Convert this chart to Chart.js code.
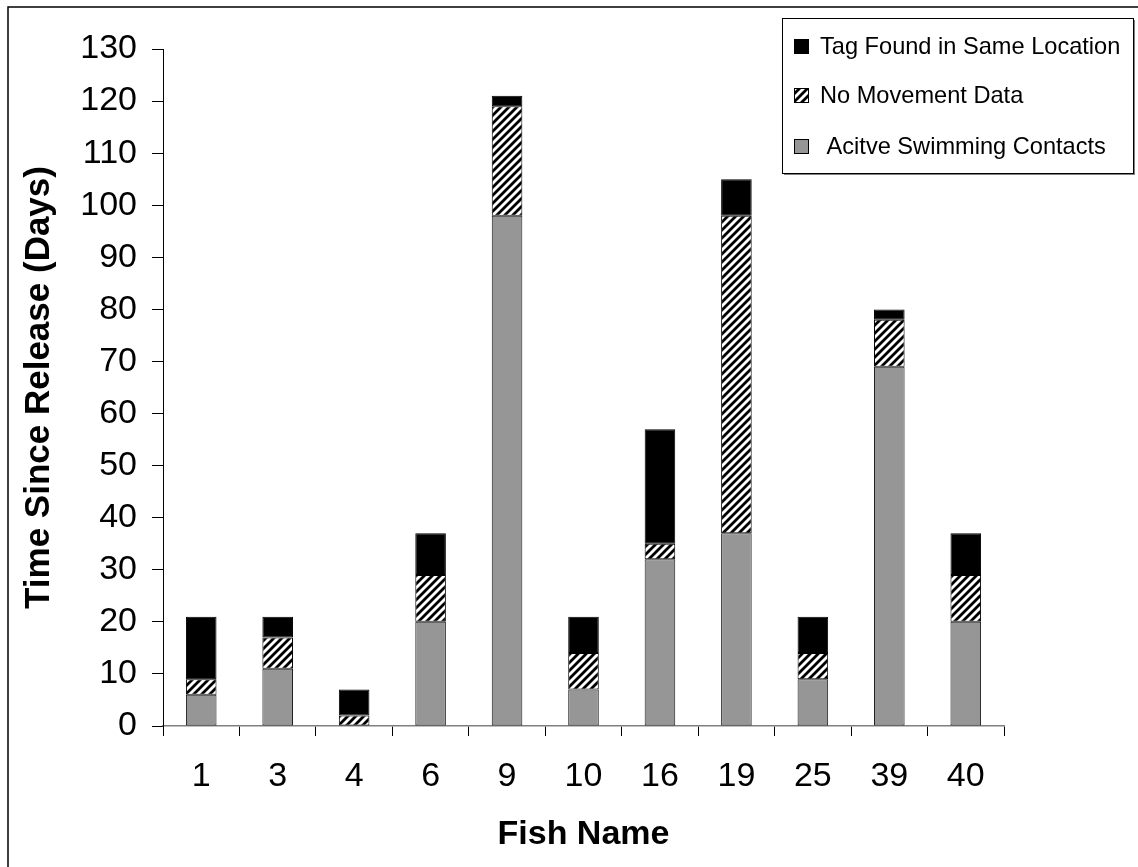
<!DOCTYPE html>
<html>
<head>
<meta charset="utf-8">
<script src="https://cdn.jsdelivr.net/npm/chart.js@4.4.1/dist/chart.umd.min.js"></script>
<style>
  html, body { margin: 0; padding: 0; background: #fff; }
  canvas { display: block; }
</style>
</head>
<body>
<canvas id="chart" width="1138" height="867"></canvas>
<script>
// Fish names along the x axis
const fishNames = ['1', '3', '4', '6', '9', '10', '16', '19', '25', '39', '40'];

// Days in each state, stacked from the bottom up
const activeSwimming = [6, 11, 0, 20, 98, 7, 32, 37, 9, 69, 20];
const noMovement     = [3, 6, 2, 9, 21, 7, 3, 61, 5, 9, 9];
const tagFound       = [12, 4, 5, 8, 2, 7, 22, 7, 7, 2, 8];

const seriesLabels = ['Tag Found in Same Location', 'No Movement Data', ' Acitve Swimming Contacts'];
const yTickValues = [0, 10, 20, 30, 40, 50, 60, 70, 80, 90, 100, 110, 120, 130];

const FONT = '"Liberation Sans", Arial, Helvetica, sans-serif';

// Diagonal black/white hatch used for the "no movement" segments
function makeHatch() {
  const s = 8;
  const c = document.createElement('canvas');
  c.width = s; c.height = s;
  const g = c.getContext('2d');
  g.fillStyle = '#fff';
  g.fillRect(0, 0, s, s);
  g.strokeStyle = '#000';
  g.lineWidth = 2.8;
  g.beginPath();
  for (let k = -1; k <= 1; k++) {
    g.moveTo(k * s - 1, s + 1);
    g.lineTo(k * s + s + 1, -1);
  }
  g.stroke();
  return g.createPattern(c, 'repeat');
}
const hatch = makeHatch();

// Outer frame around the whole figure
const framePlugin = {
  id: 'frame',
  beforeDraw(chart) {
    const ctx = chart.ctx;
    ctx.save();
    ctx.fillStyle = '#fff';
    ctx.fillRect(0, 0, chart.width, chart.height);
    ctx.strokeStyle = '#000';
    ctx.lineWidth = 1.5;
    ctx.strokeRect(8, 7, chart.width + 20, chart.height + 20);
    ctx.restore();
  }
};

// Boxed legend floating in the upper right, top-most series first
const boxLegendPlugin = {
  id: 'boxLegend',
  afterDraw(chart) {
    const ctx = chart.ctx;
    const x = 782, y = 18, w = 351, h = 155;
    ctx.save();
    ctx.fillStyle = '#808080';
    ctx.fillRect(x + 2, y + 2, w, h);
    ctx.fillStyle = '#fff';
    ctx.fillRect(x, y, w, h);
    ctx.strokeStyle = '#000';
    ctx.lineWidth = 1;
    ctx.strokeRect(x + 0.5, y + 0.5, w, h);

    const rows = [46, 95, 146];
    const dsOrder = chart.data.datasets.slice().reverse();
    ctx.font = '23.6px ' + FONT;
    ctx.textBaseline = 'middle';
    ctx.textAlign = 'left';
    dsOrder.forEach((ds, i) => {
      const cy = rows[i];
      ctx.fillStyle = ds.backgroundColor;
      ctx.fillRect(794, cy - 7, 14, 14);
      ctx.strokeStyle = '#000';
      ctx.lineWidth = 1;
      ctx.strokeRect(794.5, cy - 6.5, 14, 14);
      ctx.fillStyle = '#000';
      ctx.fillText(ds.label, 820, cy + 1);
    });
    ctx.restore();
  }
};

new Chart(document.getElementById('chart'), {
  type: 'bar',
  data: {
    labels: fishNames,
    datasets: [
      {
        label: seriesLabels[2],
        data: activeSwimming,
        backgroundColor: '#969696',
        borderColor: '#1a1a1a',
        borderWidth: 1,
        borderSkipped: false
      },
      {
        label: seriesLabels[1],
        data: noMovement,
        backgroundColor: hatch,
        borderColor: '#000',
        borderWidth: 1,
        borderSkipped: false
      },
      {
        label: seriesLabels[0],
        data: tagFound,
        backgroundColor: '#000',
        borderColor: '#000',
        borderWidth: 1,
        borderSkipped: false
      }
    ]
  },
  options: {
    responsive: false,
    animation: false,
    events: [],
    categoryPercentage: 1,
    barPercentage: 0.4,
    layout: { padding: { left: 0, top: 49, right: 134, bottom: 0 } },
    plugins: {
      legend: { display: false },
      tooltip: { enabled: false }
    },
    scales: {
      x: {
        stacked: true,
        afterFit(scale) { scale.height = 141; },
        grid: {
          offset: true,
          drawOnChartArea: false,
          drawTicks: true,
          tickLength: 10,
          tickColor: '#000',
          tickWidth: 1
        },
        border: { display: true, color: '#808080', width: 1.5 },
        ticks: {
          color: '#000',
          font: { family: FONT, size: 34 },
          padding: 20,
          maxRotation: 0
        },
        title: {
          display: true,
          text: 'Fish Name',
          color: '#000',
          font: { family: FONT, size: 34, weight: 'bold' },
          padding: { top: 0, bottom: 12 }
        }
      },
      y: {
        stacked: true,
        min: 0,
        max: 130,
        afterFit(scale) { scale.width = 163; },
        afterBuildTicks(scale) {
          scale.ticks = yTickValues.map(v => ({ value: v }));
        },
        grid: {
          drawOnChartArea: false,
          drawTicks: true,
          tickLength: 11,
          tickColor: '#000',
          tickWidth: 1
        },
        border: { display: true, color: '#000', width: 1 },
        ticks: {
          color: '#000',
          font: { family: FONT, size: 34 },
          padding: 15
        },
        title: {
          display: true,
          text: 'Time Since Release (Days)',
          color: '#000',
          font: { family: FONT, size: 35, weight: 'bold' },
          padding: { top: 18, bottom: 0 }
        }
      }
    }
  },
  plugins: [framePlugin, boxLegendPlugin]
});
</script>
</body>
</html>
